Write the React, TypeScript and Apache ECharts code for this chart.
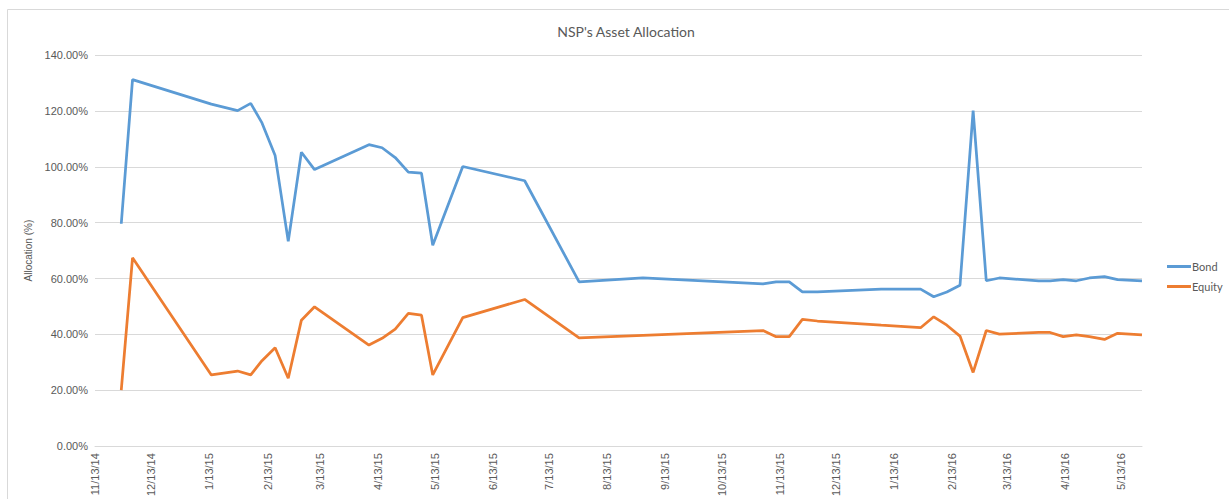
import React, { useEffect, useRef } from "react";
import * as echarts from "echarts";

const dates = [
  "2014-11-27", "2014-12-03", "2015-01-14", "2015-01-28", "2015-02-04", "2015-02-10",
  "2015-02-17", "2015-02-24", "2015-03-03", "2015-03-10", "2015-04-08", "2015-04-15",
  "2015-04-22", "2015-04-29", "2015-05-06", "2015-05-12", "2015-05-28", "2015-06-30",
  "2015-07-29", "2015-09-01", "2015-11-04", "2015-11-11", "2015-11-18", "2015-11-25",
  "2015-12-03", "2016-01-06", "2016-01-27", "2016-02-03", "2016-02-10", "2016-02-17",
  "2016-02-24", "2016-03-02", "2016-03-09", "2016-03-30", "2016-04-05", "2016-04-12",
  "2016-04-19", "2016-04-26", "2016-05-04", "2016-05-11", "2016-05-24",
];

const bond = [
  79.6, 131.2, 122.4, 120.1, 122.7, 115.7,
  104.0, 73.3, 105.2, 99.0, 107.9, 106.8,
  103.3, 98.1, 97.7, 71.9, 100.1, 95.0,
  58.8, 60.2, 58.1, 58.8, 58.8, 55.2,
  55.2, 56.2, 56.2, 53.5, 55.2, 57.6,
  120.1, 59.2, 60.2, 59.2, 59.2, 59.6,
  59.2, 60.2, 60.7, 59.6, 59.2,
];

const equity = [
  20.1, 67.4, 25.5, 26.9, 25.5, 30.6,
  35.2, 24.3, 45.1, 49.9, 36.2, 38.6,
  41.9, 47.5, 46.9, 25.5, 46.0, 52.5,
  38.8, 39.7, 41.4, 39.2, 39.2, 45.4,
  44.8, 43.3, 42.4, 46.3, 43.3, 39.4,
  26.4, 41.4, 40.1, 40.7, 40.7, 39.2,
  39.8, 39.2, 38.2, 40.4, 39.8,
];

const tickLabels = [
  "11/13/14", "12/13/14", "1/13/15", "2/13/15", "3/13/15", "4/13/15", "5/13/15",
  "6/13/15", "7/13/15", "8/13/15", "9/13/15", "10/13/15", "11/13/15", "12/13/15",
  "1/13/16", "2/13/16", "3/13/16", "4/13/16", "5/13/16",
];

const axisStart = "11/13/14";
const axisEnd = "2016-05-24";

function parseIso(s: string): number {
  const [y, m, d] = s.split("-").map(Number);
  return Date.UTC(y, m - 1, d);
}
function parseMdy(s: string): number {
  const [m, d, y] = s.split("/").map(Number);
  return Date.UTC(2000 + y, m - 1, d);
}

export default function App() {
  const ref = useRef<HTMLDivElement>(null);
  useEffect(() => {
    if (!ref.current) return;
    const chart = echarts.init(ref.current, null, { renderer: "svg" });
    const tickValues = tickLabels.map(parseMdy);
    const labelMap = new Map<number, string>();
    tickLabels.forEach((l, i) => labelMap.set(tickValues[i], l));
    const gray = "#595959";
    const font = "'Liberation Sans', Arial, sans-serif";
    chart.setOption({
      animation: false,
      backgroundColor: "#fff",
      textStyle: { fontFamily: font },
      title: {
        text: "NSP's Asset Allocation",
        left: 621,
        top: 19,
        textAlign: "center",
        textStyle: { fontFamily: "Lato, 'Open Sans', sans-serif", fontSize: 14, fontWeight: "normal", color: gray },
      },
      graphic: [
        {
          type: "rect",
          shape: { x: 7.5, y: 9.5, width: 1240, height: 520 },
          style: { fill: "none", stroke: "#d9d9d9", lineWidth: 1 },
          silent: true,
        },
      ],
      legend: {
        orient: "vertical",
        left: 1162,
        top: 256,
        itemWidth: 24,
        itemHeight: 3,
        itemGap: 9,
        icon: "rect",
        textStyle: { fontFamily: "Lato, sans-serif", fontSize: 11, color: gray, padding: [0, 0, 0, -4] },
        data: ["Bond", "Equity"],
      },
      grid: { left: 95, right: 87, top: 55, bottom: 51 },
      xAxis: {
        type: "value",
        min: parseMdy(axisStart),
        max: parseIso(axisEnd),
        splitLine: { show: false },
        axisTick: { show: false },
        axisLine: { show: true, lineStyle: { color: "#d9d9d9" } },
        axisLabel: {
          customValues: tickValues,
          rotate: 90,
          margin: 7,
          fontSize: 11,
          color: gray,
          fontFamily: font,
          formatter: (v: number) => labelMap.get(v) ?? "",
        },
      },
      yAxis: {
        type: "value",
        min: 0,
        max: 140,
        interval: 20,
        name: "Allocation (%)",
        nameLocation: "middle",
        nameGap: 58,
        nameTextStyle: { fontSize: 10, color: gray, fontFamily: font },
        axisLine: { show: false },
        axisTick: { show: false },
        splitLine: { lineStyle: { color: "#d9d9d9", width: 1 } },
        axisLabel: {
          fontSize: 11,
          color: gray,
          margin: 7,
          fontFamily: font,
          formatter: (v: number) => v.toFixed(2) + "%",
        },
      },
      series: [
        {
          name: "Bond",
          type: "line",
          data: dates.map((d, i) => [parseIso(d), bond[i]]),
          showSymbol: false,
          symbol: "none",
          lineStyle: { color: "#5B9BD5", width: 2.75 },
          itemStyle: { color: "#5B9BD5" },
        },
        {
          name: "Equity",
          type: "line",
          data: dates.map((d, i) => [parseIso(d), equity[i]]),
          showSymbol: false,
          symbol: "none",
          lineStyle: { color: "#ED7D31", width: 2.75 },
          itemStyle: { color: "#ED7D31" },
        },
      ],
    });
    return () => chart.dispose();
  }, []);
  return (
    <div
      ref={ref}
      style={{ position: "fixed", left: 0, top: 0, width: 1229, height: 499 }}
    />
  );
}
